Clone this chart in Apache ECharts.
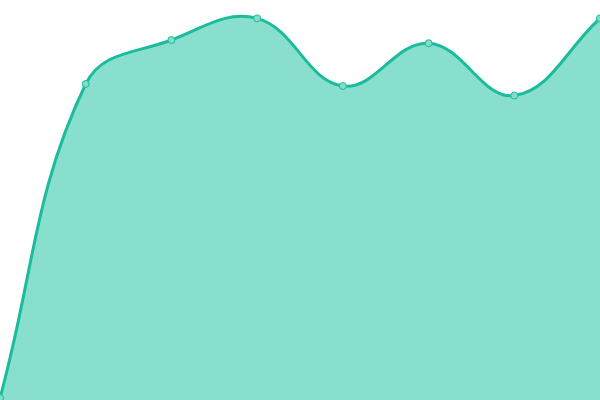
<!DOCTYPE html>
<html>
<head>
    <meta charset="UTF-8">
    <title>area</title>
    <style type="text/css">
        html, body { margin: 0; padding: 0; background: #fff; }
        #chart { width: 600px; height: 400px; }
    </style>
</head>
<body>
    <div id="chart"></div>
<script type="text/javascript" src="https://cdn.jsdelivr.net/npm/echarts@6/dist/echarts.min.js"></script>
<script type="text/javascript">
// data
var categories = ['1', '2', '3', '4', '5', '6', '7', '8'];
var values = [0.5, 79, 90, 95.4, 78.5, 89.2, 76.1, 95.4];

var lineColor = '#1abc9c';
var fillColor = '#89dfce';
var tension = 0.4;

function dist(a, b) { return Math.sqrt((a[0] - b[0]) * (a[0] - b[0]) + (a[1] - b[1]) * (a[1] - b[1])); }

// spline through the points the axes give back, control points weighted by segment length
function curvePath(pts) {
    var cps = pts.map(function (cur, i) {
        var prev = pts[i - 1] || cur, next = pts[i + 1] || cur;
        var d01 = dist(cur, prev), d12 = dist(next, cur);
        var s01 = d01 / (d01 + d12) || 0, s12 = d12 / (d01 + d12) || 0;
        var fa = tension * s01, fb = tension * s12;
        return {
            before: [cur[0] - fa * (next[0] - prev[0]), cur[1] - fa * (next[1] - prev[1])],
            after: [cur[0] + fb * (next[0] - prev[0]), cur[1] + fb * (next[1] - prev[1])]
        };
    });
    var d = 'M' + pts[0][0] + ' ' + pts[0][1];
    for (var i = 0; i < pts.length - 1; i++) {
        var a = cps[i].after, b = cps[i + 1].before, p = pts[i + 1];
        d += ' C' + a[0] + ' ' + a[1] + ' ' + b[0] + ' ' + b[1] + ' ' + p[0] + ' ' + p[1];
    }
    return d;
}

var chart = echarts.init(document.getElementById('chart'));
chart.setOption({
    animation: false,
    grid: { left: 0, right: 0, top: 0, bottom: 0 },
    xAxis: { type: 'category', data: categories, boundaryGap: false, show: false },
    yAxis: { type: 'value', min: 0, max: 100, show: false },
    series: [{
        type: 'custom',
        data: values.map(function (v, i) { return [i, v]; }),
        encode: { x: 0, y: 1 },
        renderItem: function (params, api) {
            if (params.dataIndex !== 0) return;
            var pts = values.map(function (v, i) { return api.coord([i, v]); });
            var base = api.coord([0, 0])[1];
            var line = curvePath(pts);
            var area = line + ' L' + pts[pts.length - 1][0] + ' ' + base + ' L' + pts[0][0] + ' ' + base + ' Z';
            return {
                type: 'group',
                children: [
                    { type: 'path', shape: { pathData: area }, style: { fill: fillColor, stroke: null } },
                    { type: 'path', shape: { pathData: line }, style: { fill: null, stroke: lineColor, lineWidth: 3 } }
                ]
            };
        }
    }, {
        type: 'scatter',
        data: values,
        symbol: 'circle',
        symbolSize: 7,
        itemStyle: { color: '#82dcc9', borderColor: lineColor, borderWidth: 1, opacity: 1 }
    }]
});
</script>
</body>
</html>
